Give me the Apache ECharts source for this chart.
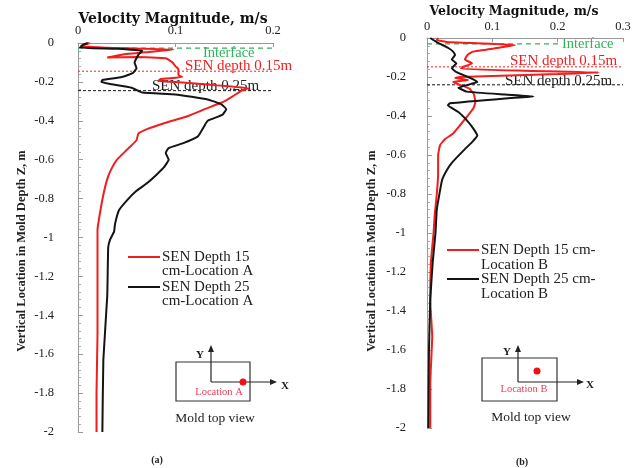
<!DOCTYPE html>
<html><head><meta charset="utf-8">
<script src="https://cdn.jsdelivr.net/npm/echarts@6/dist/echarts.min.js"></script>
<style>html,body{margin:0;padding:0;background:#fff}#c{width:643px;height:468px}</style>
</head><body><div id="c"></div>
<script>
// ---- Data: panel (a) Location A ----
const depthA15 = [0,-0.015,-0.025,-0.033,-0.045,-0.06,-0.075,-0.072,-0.078,-0.1,-0.12,-0.135,-0.165,-0.175,-0.185,-0.195,-0.2,-0.215,-0.232,-0.245,-0.27,-0.3,-0.34,-0.375,-0.41,-0.44,-0.465,-0.5,-0.55,-0.6,-0.65,-0.7,-0.78,-0.86,-0.96,-1.2,-1.5,-1.8,-2];
const velA15   = [0.012,0.003,0.03,0.098,0.075,0.045,0.03,0.06,0.09,0.097,0.1,0.103,0.103,0.107,0.085,0.082,0.1,0.135,0.175,0.168,0.16,0.15,0.13,0.113,0.09,0.072,0.062,0.06,0.05,0.04,0.034,0.03,0.026,0.023,0.02,0.02,0.02,0.019,0.019];
const depthA25 = [0,-0.01,-0.025,-0.03,-0.04,-0.06,-0.1,-0.13,-0.155,-0.175,-0.19,-0.2,-0.21,-0.23,-0.255,-0.265,-0.29,-0.315,-0.34,-0.37,-0.4,-0.44,-0.48,-0.515,-0.54,-0.565,-0.6,-0.64,-0.68,-0.72,-0.76,-0.81,-0.86,-0.93,-0.97,-1.01,-1.05,-1.3,-1.63,-2];
const velA25   = [0.01,0.005,0.002,0.04,0.066,0.062,0.058,0.06,0.056,0.045,0.025,0.024,0.032,0.055,0.066,0.1,0.133,0.147,0.152,0.148,0.133,0.128,0.123,0.108,0.093,0.09,0.093,0.088,0.08,0.071,0.06,0.05,0.042,0.038,0.037,0.033,0.031,0.03,0.026,0.025];
// ---- Data: panel (b) Location B ----
const depthB15 = [0,-0.01,-0.02,-0.036,-0.05,-0.07,-0.087,-0.11,-0.13,-0.15,-0.158,-0.168,-0.177,-0.185,-0.2,-0.205,-0.215,-0.225,-0.24,-0.26,-0.29,-0.33,-0.36,-0.4,-0.45,-0.49,-0.52,-0.55,-0.6,-0.7,-0.8,-0.9,-1.0,-1.15,-1.35,-1.53,-1.77,-2];
const velB15   = [0.017,0.015,0.03,0.135,0.11,0.07,0.062,0.058,0.069,0.054,0.052,0.15,0.263,0.2,0.05,0.043,0.063,0.04,0.05,0.065,0.072,0.074,0.071,0.062,0.05,0.04,0.027,0.02,0.017,0.017,0.015,0.012,0.01,0.006,0.005,0.008,0.005,0.005];
const depthB25 = [0,-0.025,-0.05,-0.07,-0.087,-0.11,-0.13,-0.155,-0.175,-0.2,-0.225,-0.24,-0.255,-0.275,-0.29,-0.3,-0.31,-0.335,-0.345,-0.38,-0.43,-0.47,-0.5,-0.53,-0.58,-0.64,-0.68,-0.73,-0.88,-1.0,-1.14,-1.34,-1.6,-2];
const velB25   = [0.005,0.017,0.032,0.04,0.043,0.038,0.045,0.038,0.045,0.063,0.077,0.063,0.048,0.061,0.12,0.163,0.12,0.035,0.032,0.048,0.063,0.072,0.077,0.07,0.055,0.038,0.03,0.023,0.015,0.013,0.009,0.005,0.003,0.002];
// reference depths
const interfaceDepthA = -0.026, senDepth15A = -0.145, senDepth25A = -0.245;
const interfaceDepthB = -0.03,  senDepth15B = -0.148, senDepth25B = -0.24;
// axes
const xMaxA = 0.2, xMaxB = 0.3, xStep = 0.1, yMin = -2, yMax = 0, yStep = 0.2;
const seriesNames = ['SEN Depth 15 cm-Location A','SEN Depth 25 cm-Location A','SEN Depth 15 cm-Location B','SEN Depth 25 cm-Location B'];
const legendLinesA = [['SEN Depth 15', 'cm-Location A'], ['SEN Depth 25', 'cm-Location A']];
const legendLinesB = [['SEN Depth 15 cm-', 'Location B'], ['SEN Depth 25 cm-', 'Location B']];

const zip = (d, v) => d.map((y, i) => [v[i], y]);
const SERIF = "'Liberation Serif','Times New Roman',serif";
const WIDE = "'DejaVu Serif',serif";
const RED = '#f21d1d', BLACK = '#141414', GREEN = '#2fb35a';

function xAxis(i, max, margin) {
  return {
    gridIndex: i, type: 'value', position: 'top', min: 0, max: max, interval: xStep,
    axisLine: {show: true, lineStyle: {color: '#999', width: 1}},
    axisTick: {show: true, inside: true, length: 4, lineStyle: {color: '#999'}},
    axisLabel: {fontFamily: SERIF, fontSize: 12.5, color: '#222', margin: margin},
    splitLine: {show: false}
  };
}
function yAxis(i, margin) {
  return {
    gridIndex: i, type: 'value', min: yMin, max: yMax, interval: yStep,
    axisLine: {show: true, lineStyle: {color: '#999', width: 1}},
    axisTick: {show: true, inside: true, length: 5, lineStyle: {color: '#999'}},
    minorTick: {show: true, splitNumber: 5, length: 3, lineStyle: {color: '#aaa'}},
    axisLabel: {fontFamily: SERIF, fontSize: 12.5, color: '#222', margin: margin},
    splitLine: {show: false}
  };
}
function refLine(gi, x0, x1, d, color, type, w) {
  return {type: 'line', xAxisIndex: gi, yAxisIndex: gi, data: [[x0, d], [x1, d]], symbol: 'none', silent: true,
    lineStyle: {color: color, type: type, width: w}, z: 1};
}
function curve(name, gi, d, v, color) {
  return {name: name, type: 'line', xAxisIndex: gi, yAxisIndex: gi, data: zip(d, v), symbol: 'none',
    smooth: 0.12, lineStyle: {color: color, width: 2}, itemStyle: {color: color}, z: 3};
}

const chart = echarts.init(document.getElementById('c'), null, {renderer: 'canvas'});
const txt = (x, y, s, fill, size, extra) => Object.assign({type: 'text', x: x, y: y,
  style: Object.assign({text: s, fill: fill, font: `${size}px ${SERIF}`, textAlign: 'left', textVerticalAlign: 'middle'}, extra || {})});
function legendItems(x, y0, lines, colors, lineGap, entryGap) {
  const out = [];
  lines.forEach((ls, i) => {
    const y = y0 + i * entryGap;
    out.push({type: 'line', shape: {x1: x, y1: y, x2: x + 32, y2: y}, style: {stroke: colors[i], lineWidth: 2}});
    ls.forEach((t, j) => out.push(txt(x + 34, y + j * lineGap, t, '#222', 15)));
  });
  return out;
}

chart.setOption({
  animation: false,
  backgroundColor: '#fff',
  grid: [
    {left: 78, top: 43, width: 195, height: 389},
    {left: 427, top: 38, width: 196, height: 390}
  ],
  xAxis: [xAxis(0, xMaxA, 6), xAxis(1, xMaxB, 5)],
  yAxis: [yAxis(0, 24), yAxis(1, 21)],
  series: [
    refLine(0, 0, xMaxA, interfaceDepthA, GREEN, [5, 4], 1.2),
    refLine(0, 0, xMaxA, senDepth15A, RED, [2, 2], 1),
    refLine(0, 0, xMaxA, senDepth25A, BLACK, [3, 2], 1),
    refLine(1, 0, 0.205, interfaceDepthB, GREEN, [5, 4], 1.2),
    refLine(1, 0, xMaxB, senDepth15B, RED, [2, 2], 1),
    refLine(1, 0, xMaxB, senDepth25B, BLACK, [3, 2], 1),
    curve(seriesNames[0], 0, depthA15, velA15, RED),
    curve(seriesNames[1], 0, depthA25, velA25, BLACK),
    curve(seriesNames[2], 1, depthB15, velB15, RED),
    curve(seriesNames[3], 1, depthB25, velB25, BLACK)
  ],
  graphic: [
    // x axis titles
    txt(173, 19, 'Velocity Magnitude, m/s', '#111', 14, {font: `bold 14px ${WIDE}`, textAlign: 'center'}),
    txt(514, 12, 'Velocity Magnitude, m/s', '#111', 12.5, {font: `bold 12.5px ${WIDE}`, textAlign: 'center'}),
    // y axis titles
    {type: 'text', x: 22, y: 251, rotation: Math.PI / 2,
     style: {text: 'Vertical Location in Mold Depth Z, m', fill: '#222', font: `bold 12.5px ${SERIF}`, textAlign: 'center', textVerticalAlign: 'middle'}},
    {type: 'text', x: 372, y: 251, rotation: Math.PI / 2,
     style: {text: 'Vertical Location in Mold Depth Z, m', fill: '#222', font: `bold 12.5px ${SERIF}`, textAlign: 'center', textVerticalAlign: 'middle'}},
    // annotations (a)
    txt(203, 53, 'Interface', GREEN, 14.5),
    txt(185, 66, 'SEN depth 0.15m', RED, 15),
    txt(152, 86, 'SEN depth 0.25m', '#222', 15),
    // annotations (b)
    txt(562, 44, 'Interface', GREEN, 14.5),
    txt(510, 61, 'SEN depth 0.15m', RED, 15),
    txt(505, 81, 'SEN depth 0.25m', '#222', 15),
    // legends
    ...legendItems(128, 257, legendLinesA, [RED, BLACK], 14, 30),
    ...legendItems(447, 250, legendLinesB, [RED, BLACK], 15, 29),
    // inset (a)
    {type: 'rect', shape: {x: 176, y: 362, width: 74, height: 39}, style: {fill: 'none', stroke: '#333', lineWidth: 1.2}},
    {type: 'polyline', shape: {points: [[211, 382], [211, 350]]}, style: {stroke: '#222', lineWidth: 1.2}},
    {type: 'polygon', shape: {points: [[211, 345], [208, 352], [214, 352]]}, style: {fill: '#222'}},
    {type: 'polyline', shape: {points: [[211, 382], [271, 382]]}, style: {stroke: '#222', lineWidth: 1.2}},
    {type: 'polygon', shape: {points: [[277, 382], [270, 379], [270, 385]]}, style: {fill: '#222'}},
    {type: 'circle', shape: {cx: 243, cy: 382, r: 3.5}, style: {fill: '#ee1111'}},
    txt(200, 355, 'Y', '#222', 11, {font: `bold 11px ${SERIF}`, textAlign: 'center'}),
    txt(285, 386, 'X', '#222', 11, {font: `bold 11px ${SERIF}`, textAlign: 'center'}),
    txt(219, 392, 'Location A', '#e8405a', 10.5, {textAlign: 'center'}),
    txt(215, 418, 'Mold top view', '#222', 13.5, {textAlign: 'center'}),
    txt(157, 460, '(a)', '#222', 10, {textAlign: 'center', font: `bold 10px ${SERIF}`}),
    // inset (b)
    {type: 'rect', shape: {x: 482, y: 358, width: 75, height: 43}, style: {fill: 'none', stroke: '#333', lineWidth: 1.2}},
    {type: 'polyline', shape: {points: [[518, 382], [518, 350]]}, style: {stroke: '#222', lineWidth: 1.2}},
    {type: 'polygon', shape: {points: [[518, 345], [515, 352], [521, 352]]}, style: {fill: '#222'}},
    {type: 'polyline', shape: {points: [[518, 382], [578, 382]]}, style: {stroke: '#222', lineWidth: 1.2}},
    {type: 'polygon', shape: {points: [[584, 382], [577, 379], [577, 385]]}, style: {fill: '#222'}},
    {type: 'circle', shape: {cx: 537, cy: 371, r: 3.5}, style: {fill: '#ee1111'}},
    txt(507, 352, 'Y', '#222', 11, {font: `bold 11px ${SERIF}`, textAlign: 'center'}),
    txt(590, 385, 'X', '#222', 11, {font: `bold 11px ${SERIF}`, textAlign: 'center'}),
    txt(524, 389, 'Location B', '#e8405a', 10.5, {textAlign: 'center'}),
    txt(531, 417, 'Mold top view', '#222', 13.5, {textAlign: 'center'}),
    txt(522, 462, '(b)', '#222', 10, {textAlign: 'center', font: `bold 10px ${SERIF}`})
  ]
});
</script>
</body></html>
